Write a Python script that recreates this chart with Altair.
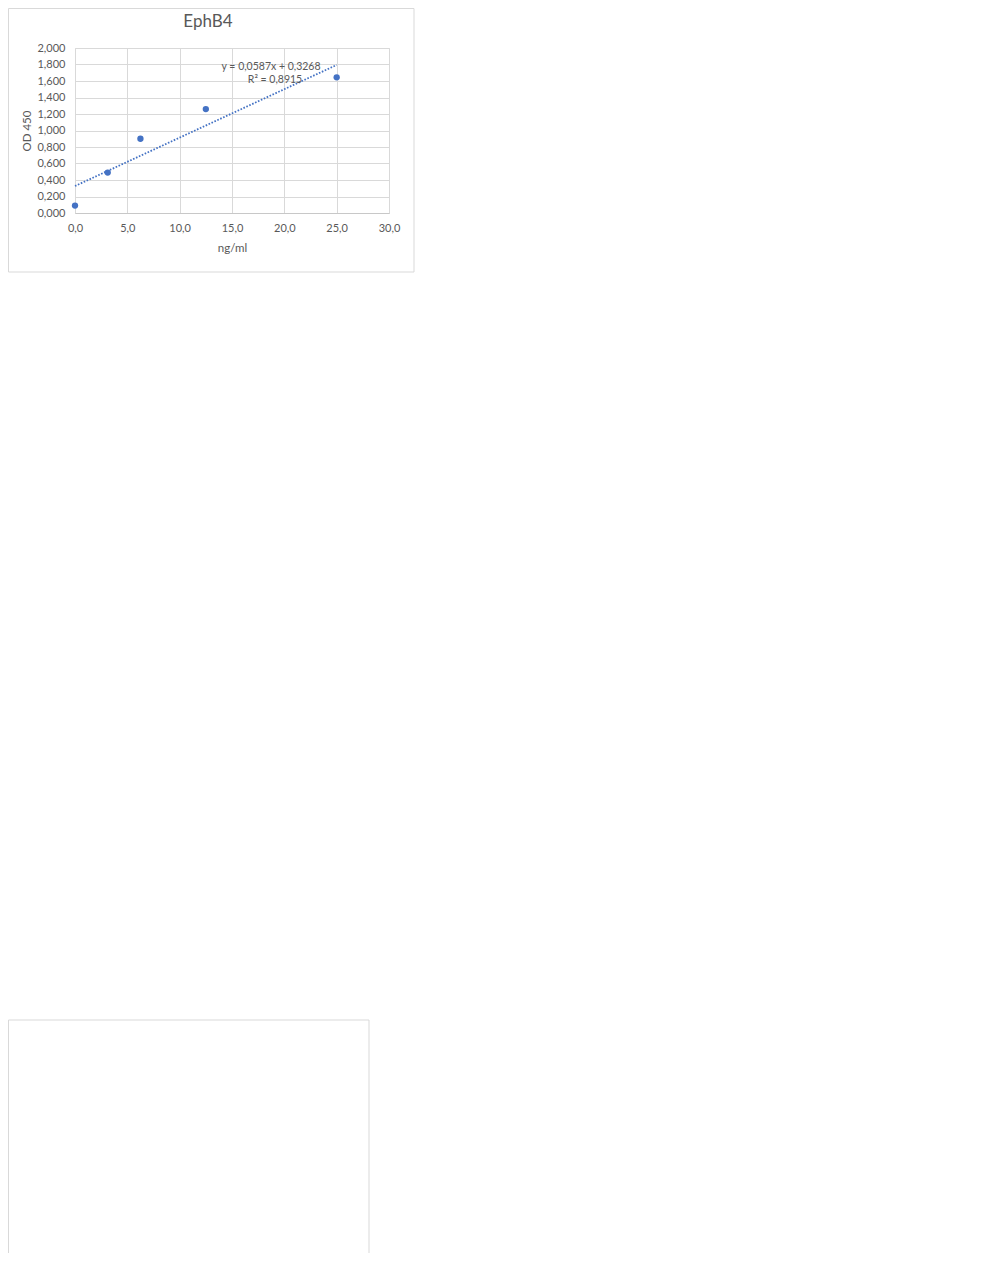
import altair as alt
import pandas as pd

# Data
conc = [0.0, 3.125, 6.25, 12.5, 25.0]
od450 = [0.09, 0.49, 0.90, 1.26, 1.645]
trend_slope = 0.0587
trend_intercept = 0.3268
trend_x = [0.0, 25.0]
eq_line1 = "y = 0,0587x + 0,3268"
eq_line2 = "R² = 0,8915"
chart_title = "EphB4"

FONT = "Lato"
TXT = "#595959"
BLUE = "#4472C4"
GRID = "#d9d9d9"

pts = pd.DataFrame({"x": conc, "y": od450})
trend = pd.DataFrame({"x": trend_x})
one = pd.DataFrame({"k": [0]})

xscale = alt.Scale(domain=[0, 30], nice=False, zero=False)
yscale = alt.Scale(domain=[0, 2], nice=False, zero=False)

xaxis = alt.Axis(
    values=[0, 5, 10, 15, 20, 25, 30],
    labelExpr="replace(format(datum.value, '.1f'), '.', ',')",
    title="ng/ml", titleX=157, titleY=35, titleBaseline="middle",
    titleFont=FONT, titleFontSize=11.5, titleFontWeight="normal", titleColor=TXT,
    labelFont=FONT, labelFontSize=11, labelColor=TXT, labelPadding=9,
    labelFlush=False,
    ticks=False, domain=True, domainColor="#c8c8c8", gridColor=GRID,
)
yaxis = alt.Axis(
    values=[0, 0.2, 0.4, 0.6, 0.8, 1.0, 1.2, 1.4, 1.6, 1.8, 2.0],
    labelExpr="replace(format(datum.value, '.3f'), '.', ',')",
    title="OD 450", titleX=-48, titleY=82.5, titleBaseline="middle", titleAngle=-90,
    titleFont=FONT, titleFontSize=11.5, titleFontWeight="normal", titleColor=TXT,
    labelFont=FONT, labelFontSize=11, labelColor=TXT, labelPadding=10,
    labelFlush=False,
    ticks=False, domain=False, gridColor=GRID,
)

points = alt.Chart(pts).mark_circle(size=40, color=BLUE, opacity=1).encode(
    x=alt.X("x:Q", scale=xscale, axis=xaxis),
    y=alt.Y("y:Q", scale=yscale, axis=yaxis),
)

line = alt.Chart(trend).transform_calculate(
    y=f"{trend_slope} * datum.x + {trend_intercept}"
).mark_line(color=BLUE, strokeWidth=1.8, strokeDash=[1.6, 1.6]).encode(
    x=alt.X("x:Q", scale=xscale, axis=xaxis),
    y=alt.Y("y:Q", scale=yscale, axis=yaxis),
)

def label(txt, px, py, size=10.5):
    return alt.Chart(one).mark_text(
        font=FONT, fontSize=size, color=TXT, align="center", baseline="middle",
        text=txt,
    ).encode(x=alt.value(px), y=alt.value(py))

eq1 = label(eq_line1, 196, 19)
eq2 = label(eq_line2, 200, 32)
title = label(chart_title, 133, -26, 17)

frame = alt.Chart(one).mark_rect(filled=False, stroke="#d9d9d9", strokeWidth=1).encode(
    x=alt.value(-66.5), x2=alt.value(339), y=alt.value(-39.5), y2=alt.value(224)
)
frame2 = alt.Chart(one).mark_rect(filled=False, stroke="#d9d9d9", strokeWidth=1).encode(
    x=alt.value(-66.5), x2=alt.value(294), y=alt.value(972), y2=alt.value(1230)
)

chart = alt.layer(line, points, frame, frame2, eq1, eq2, title).resolve_scale(
    x="shared", y="shared"
).properties(
    width=314, height=165,
    autosize=alt.AutoSizeParams(type="none"),
    padding={"left": 67, "top": 40, "right": 40, "bottom": 1040},
).configure_view(stroke=GRID).configure(background="white")

chart.save("out.html", embed_options={"renderer": "svg", "actions": False})
